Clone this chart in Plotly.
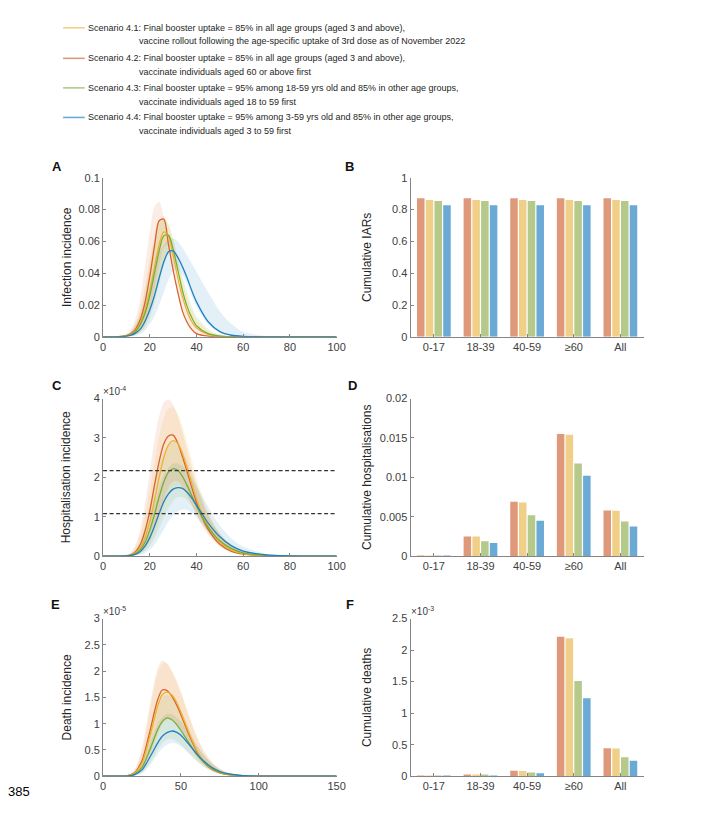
import plotly.graph_objects as go

# page offset (browser body margin) compensation
OFF = 8
W, H = 709 - OFF, 816 - OFF

# ---------------- legend text ----------------
legend_line1 = [
    "Scenario 4.1: Final booster uptake = 85% in all age groups (aged 3 and above),",
    "Scenario 4.2: Final booster uptake = 85% in all age groups (aged 3 and above),",
    "Scenario 4.3: Final booster uptake = 95% among 18-59 yrs old and 85% in other age groups,",
    "Scenario 4.4: Final booster uptake = 95% among 3-59 yrs old and 85% in other age groups,",
]
legend_line2 = [
    "vaccine rollout following the age-specific uptake of 3rd dose as of November 2022",
    "vaccinate individuals aged 60 or above first",
    "vaccinate individuals aged 18 to 59 first",
    "vaccinate individuals aged 3 to 59 first",
]
scenarios = ["4.1", "4.2", "4.3", "4.4"]

# ---------------- panel A: infection incidence ----------------
days_A = [0, 5, 10, 12, 14, 16, 18, 20, 22, 24, 26, 28, 30, 32, 34, 36, 38, 40, 45, 50, 55, 60, 70, 80, 90, 100]
inf_41 = [0, 0, 0.0006, 0.0015, 0.004, 0.009, 0.017, 0.029, 0.044, 0.058, 0.066, 0.063, 0.051, 0.037, 0.025, 0.016, 0.0095, 0.0055, 0.0015, 0.0004, 0.0001, 0, 0, 0, 0, 0]
inf_42 = [0, 0, 0.0008, 0.002, 0.005, 0.011, 0.022, 0.038, 0.057, 0.073, 0.074, 0.058, 0.042, 0.028, 0.016, 0.009, 0.0045, 0.002, 0.0004, 0.0001, 0, 0, 0, 0, 0, 0]
inf_43 = [0, 0, 0.0005, 0.0013, 0.0035, 0.008, 0.015, 0.026, 0.040, 0.054, 0.0635, 0.064, 0.055, 0.042, 0.029, 0.019, 0.012, 0.007, 0.002, 0.0005, 0.0001, 0, 0, 0, 0, 0]
inf_44 = [0, 0, 0.0004, 0.001, 0.0025, 0.005, 0.010, 0.017, 0.026, 0.037, 0.047, 0.0535, 0.054, 0.050, 0.044, 0.037, 0.029, 0.022, 0.0095, 0.0033, 0.001, 0.0003, 0, 0, 0, 0]
inf_41_lo = [0, 0, 0.0002, 0.0005, 0.0013, 0.003, 0.007, 0.014, 0.024, 0.036, 0.048, 0.054, 0.050, 0.039, 0.027, 0.017, 0.010, 0.006, 0.0015, 0.0003, 0, 0, 0, 0, 0, 0]
inf_41_hi = [0, 0, 0.0015, 0.004, 0.009, 0.018, 0.032, 0.049, 0.064, 0.074, 0.076, 0.070, 0.060, 0.047, 0.035, 0.025, 0.017, 0.011, 0.004, 0.0012, 0.0003, 0.0001, 0, 0, 0, 0]
inf_42_lo = [0, 0, 0.0002, 0.0005, 0.0015, 0.004, 0.009, 0.018, 0.030, 0.045, 0.056, 0.058, 0.045, 0.030, 0.018, 0.010, 0.005, 0.002, 0.0003, 0, 0, 0, 0, 0, 0, 0]
inf_42_hi = [0, 0, 0.002, 0.005, 0.012, 0.025, 0.045, 0.066, 0.082, 0.085, 0.075, 0.060, 0.048, 0.035, 0.024, 0.016, 0.010, 0.006, 0.002, 0.0005, 0.0001, 0, 0, 0, 0, 0]
inf_43_lo = [0, 0, 0.0002, 0.0004, 0.0011, 0.0027, 0.006, 0.012, 0.021, 0.033, 0.045, 0.052, 0.051, 0.042, 0.031, 0.021, 0.013, 0.008, 0.002, 0.0005, 0, 0, 0, 0, 0, 0]
inf_43_hi = [0, 0, 0.0013, 0.0035, 0.008, 0.016, 0.029, 0.045, 0.060, 0.071, 0.074, 0.071, 0.062, 0.050, 0.038, 0.028, 0.019, 0.013, 0.005, 0.0015, 0.0004, 0.0001, 0, 0, 0, 0]
inf_44_lo = [0, 0, 0.0001, 0.0003, 0.0008, 0.002, 0.004, 0.008, 0.013, 0.020, 0.028, 0.036, 0.041, 0.042, 0.039, 0.033, 0.026, 0.019, 0.008, 0.0025, 0.0007, 0.0002, 0, 0, 0, 0]
inf_44_hi = [0, 0, 0.001, 0.003, 0.007, 0.013, 0.022, 0.032, 0.043, 0.052, 0.058, 0.061, 0.062, 0.060, 0.056, 0.051, 0.046, 0.041, 0.028, 0.016, 0.008, 0.003, 0.0005, 0.0001, 0, 0]

# ---------------- panel C: hospitalisation incidence (x 1e-4) ----------------
days_C = [0, 5, 10, 12, 14, 16, 18, 20, 22, 24, 26, 28, 30, 32, 34, 36, 38, 40, 42, 45, 50, 55, 60, 70, 80, 100]
hos_41 = [0, 0, 0.008, 0.03, 0.09, 0.22, 0.48, 0.88, 1.42, 2.0, 2.5, 2.82, 2.93, 2.86, 2.60, 2.24, 1.84, 1.46, 1.13, 0.76, 0.36, 0.15, 0.06, 0.01, 0, 0]
hos_42 = [0, 0, 0.01, 0.04, 0.12, 0.30, 0.65, 1.15, 1.80, 2.40, 2.85, 3.05, 3.07, 2.87, 2.52, 2.14, 1.74, 1.36, 1.04, 0.68, 0.30, 0.12, 0.05, 0.01, 0, 0]
hos_43 = [0, 0, 0.006, 0.025, 0.07, 0.17, 0.36, 0.66, 1.06, 1.50, 1.88, 2.13, 2.22, 2.18, 2.02, 1.79, 1.53, 1.27, 1.03, 0.73, 0.39, 0.19, 0.085, 0.015, 0.002, 0]
hos_44 = [0, 0, 0.005, 0.018, 0.05, 0.12, 0.26, 0.47, 0.76, 1.08, 1.38, 1.58, 1.70, 1.74, 1.72, 1.62, 1.47, 1.29, 1.11, 0.84, 0.49, 0.26, 0.13, 0.03, 0.006, 0]
hos_41_lo = [0, 0, 0.002, 0.008, 0.03, 0.08, 0.17, 0.33, 0.58, 0.90, 1.25, 1.55, 1.75, 1.80, 1.72, 1.53, 1.30, 1.06, 0.84, 0.57, 0.26, 0.10, 0.035, 0.005, 0, 0]
hos_41_hi = [0, 0, 0.025, 0.08, 0.24, 0.55, 1.05, 1.70, 2.40, 3.05, 3.50, 3.75, 3.78, 3.62, 3.30, 2.90, 2.45, 2.02, 1.62, 1.12, 0.58, 0.27, 0.12, 0.02, 0, 0]
hos_42_lo = [0, 0, 0.002, 0.01, 0.04, 0.10, 0.22, 0.42, 0.72, 1.08, 1.45, 1.75, 1.90, 1.90, 1.78, 1.55, 1.30, 1.05, 0.82, 0.55, 0.24, 0.09, 0.03, 0.005, 0, 0]
hos_42_hi = [0, 0, 0.03, 0.10, 0.30, 0.70, 1.35, 2.15, 2.95, 3.55, 3.90, 3.98, 3.85, 3.55, 3.15, 2.70, 2.25, 1.85, 1.50, 1.05, 0.55, 0.25, 0.11, 0.02, 0, 0]
hos_43_lo = [0, 0, 0.002, 0.006, 0.02, 0.06, 0.13, 0.26, 0.45, 0.70, 0.98, 1.22, 1.40, 1.50, 1.50, 1.42, 1.27, 1.08, 0.89, 0.63, 0.32, 0.14, 0.06, 0.01, 0, 0]
hos_43_hi = [0, 0, 0.015, 0.06, 0.17, 0.38, 0.75, 1.25, 1.80, 2.30, 2.65, 2.85, 2.90, 2.85, 2.68, 2.40, 2.08, 1.75, 1.45, 1.03, 0.58, 0.29, 0.14, 0.03, 0.004, 0]
hos_44_lo = [0, 0, 0.001, 0.004, 0.012, 0.035, 0.08, 0.16, 0.29, 0.47, 0.68, 0.88, 1.03, 1.13, 1.18, 1.17, 1.10, 0.98, 0.84, 0.62, 0.33, 0.15, 0.06, 0.01, 0.001, 0]
hos_44_hi = [0, 0, 0.012, 0.045, 0.12, 0.28, 0.55, 0.92, 1.35, 1.75, 2.05, 2.25, 2.35, 2.35, 2.28, 2.15, 1.98, 1.78, 1.58, 1.25, 0.78, 0.45, 0.24, 0.06, 0.012, 0]
hos_thresholds = [2.17, 1.08]

# ---------------- panel E: death incidence (x 1e-5) ----------------
days_E = [0, 10, 15, 20, 25, 30, 35, 38, 41, 44, 47, 50, 55, 60, 65, 70, 75, 80, 90, 100, 110, 120, 150]
dth_41 = [0, 0, 0.004, 0.05, 0.25, 0.75, 1.33, 1.55, 1.60, 1.55, 1.42, 1.22, 0.84, 0.50, 0.27, 0.14, 0.07, 0.035, 0.008, 0.001, 0, 0, 0]
dth_42 = [0, 0, 0.005, 0.06, 0.30, 0.85, 1.45, 1.64, 1.63, 1.53, 1.37, 1.17, 0.80, 0.48, 0.26, 0.13, 0.065, 0.03, 0.007, 0.001, 0, 0, 0]
dth_43 = [0, 0, 0.003, 0.035, 0.17, 0.50, 0.88, 1.04, 1.11, 1.08, 0.99, 0.87, 0.64, 0.42, 0.26, 0.145, 0.075, 0.038, 0.009, 0.0015, 0, 0, 0]
dth_44 = [0, 0, 0.002, 0.025, 0.12, 0.36, 0.63, 0.76, 0.83, 0.86, 0.84, 0.78, 0.61, 0.43, 0.28, 0.165, 0.09, 0.047, 0.011, 0.002, 0, 0, 0]
dth_41_lo = [0, 0, 0.001, 0.015, 0.10, 0.37, 0.78, 0.98, 1.06, 1.06, 0.98, 0.86, 0.62, 0.38, 0.21, 0.11, 0.05, 0.024, 0.005, 0.001, 0, 0, 0]
dth_41_hi = [0, 0, 0.008, 0.10, 0.48, 1.25, 1.95, 2.15, 2.15, 2.02, 1.85, 1.62, 1.18, 0.78, 0.47, 0.27, 0.14, 0.07, 0.015, 0.003, 0, 0, 0]
dth_42_lo = [0, 0, 0.001, 0.02, 0.12, 0.42, 0.85, 1.05, 1.12, 1.10, 1.0, 0.88, 0.62, 0.38, 0.21, 0.11, 0.05, 0.024, 0.005, 0.001, 0, 0, 0]
dth_42_hi = [0, 0, 0.01, 0.12, 0.55, 1.35, 2.05, 2.20, 2.15, 2.0, 1.80, 1.58, 1.15, 0.76, 0.46, 0.26, 0.14, 0.07, 0.015, 0.003, 0, 0, 0]
dth_43_lo = [0, 0, 0.001, 0.01, 0.07, 0.25, 0.50, 0.63, 0.70, 0.71, 0.67, 0.60, 0.44, 0.29, 0.17, 0.09, 0.045, 0.022, 0.005, 0.001, 0, 0, 0]
dth_43_hi = [0, 0, 0.006, 0.07, 0.33, 0.85, 1.32, 1.50, 1.55, 1.50, 1.38, 1.22, 0.92, 0.62, 0.39, 0.23, 0.12, 0.06, 0.014, 0.003, 0, 0, 0]
dth_44_lo = [0, 0, 0.0005, 0.008, 0.05, 0.20, 0.42, 0.53, 0.60, 0.63, 0.62, 0.57, 0.44, 0.30, 0.18, 0.10, 0.05, 0.025, 0.006, 0.001, 0, 0, 0]
dth_44_hi = [0, 0, 0.004, 0.05, 0.24, 0.62, 0.98, 1.12, 1.18, 1.18, 1.12, 1.03, 0.82, 0.59, 0.39, 0.24, 0.13, 0.07, 0.017, 0.004, 0.001, 0, 0]

# ---------------- bar panels ----------------
age_groups = ["0-17", "18-39", "40-59", "≥60", "All"]
iar_42 = [0.872, 0.872, 0.872, 0.872, 0.872]
iar_41 = [0.861, 0.861, 0.861, 0.861, 0.861]
iar_43 = [0.855, 0.855, 0.855, 0.855, 0.855]
iar_44 = [0.827, 0.827, 0.827, 0.827, 0.827]
chosp_42 = [0.00003, 0.0025, 0.0069, 0.0155, 0.0058]
chosp_41 = [0.00003, 0.0025, 0.0068, 0.0154, 0.00575]
chosp_43 = [0.00002, 0.0019, 0.0052, 0.01175, 0.0044]
chosp_44 = [0.00002, 0.00167, 0.0045, 0.0102, 0.00375]
cdeath_42 = [0.002, 0.016, 0.085, 2.21, 0.443]   # x 1e-3
cdeath_41 = [0.002, 0.015, 0.082, 2.19, 0.44]
cdeath_43 = [0.001, 0.010, 0.060, 1.51, 0.30]
cdeath_44 = [0.001, 0.007, 0.048, 1.235, 0.247]

# ---------------- styles ----------------
line_col = {"4.1": "#EDB22F", "4.2": "#D9622B", "4.3": "#78AD36", "4.4": "#1F80C4"}
band_col = {"4.1": "rgba(237,177,32,0.13)", "4.2": "rgba(217,83,25,0.11)",
            "4.3": "rgba(119,172,48,0.12)", "4.4": "rgba(0,114,189,0.11)"}
bar_col = {"4.1": "#F0D088", "4.2": "#E0987A", "4.3": "#B5C98A", "4.4": "#6AAAD4"}

AX_FONT = "Liberation Sans, Arial, Helvetica, sans-serif"
LEG_FONT = "Liberation Sans, Arial, sans-serif"
AXC = "#858585"
TXT = "#404040"


def px_x(p):
    return (p - OFF) / W


def px_y(p):
    return 1 - (p - OFF) / H


fig = go.Figure()

line_panels = [
    ("x", "y", days_A, {"4.1": (inf_41, inf_41_lo, inf_41_hi), "4.2": (inf_42, inf_42_lo, inf_42_hi),
                        "4.3": (inf_43, inf_43_lo, inf_43_hi), "4.4": (inf_44, inf_44_lo, inf_44_hi)}),
    ("x3", "y3", days_C, {"4.1": (hos_41, hos_41_lo, hos_41_hi), "4.2": (hos_42, hos_42_lo, hos_42_hi),
                          "4.3": (hos_43, hos_43_lo, hos_43_hi), "4.4": (hos_44, hos_44_lo, hos_44_hi)}),
    ("x5", "y5", days_E, {"4.1": (dth_41, dth_41_lo, dth_41_hi), "4.2": (dth_42, dth_42_lo, dth_42_hi),
                          "4.3": (dth_43, dth_43_lo, dth_43_hi), "4.4": (dth_44, dth_44_lo, dth_44_hi)}),
]
band_order = ["4.4", "4.3", "4.1", "4.2"]
line_order = ["4.2", "4.1", "4.3", "4.4"]
for xa, ya, days, series in line_panels:
    for s in band_order:
        mean, lo, hi = series[s]
        fig.add_trace(go.Scatter(x=days, y=lo, xaxis=xa, yaxis=ya, mode="lines",
                                 line=dict(width=0, shape="spline", smoothing=0.8),
                                 showlegend=False, hoverinfo="skip"))
        fig.add_trace(go.Scatter(x=days, y=hi, xaxis=xa, yaxis=ya, mode="lines", fill="tonexty",
                                 fillcolor=band_col[s], line=dict(width=0, shape="spline", smoothing=0.8),
                                 showlegend=False, hoverinfo="skip"))
    for s in line_order:
        mean, lo, hi = series[s]
        fig.add_trace(go.Scatter(x=days, y=mean, xaxis=xa, yaxis=ya, mode="lines",
                                 name="Scenario " + s,
                                 line=dict(color=line_col[s], width=1.3, shape="spline", smoothing=0.8),
                                 showlegend=False))

bar_panels = [
    ("x2", "y2", {"4.2": iar_42, "4.1": iar_41, "4.3": iar_43, "4.4": iar_44}),
    ("x4", "y4", {"4.2": chosp_42, "4.1": chosp_41, "4.3": chosp_43, "4.4": chosp_44}),
    ("x6", "y6", {"4.2": cdeath_42, "4.1": cdeath_41, "4.3": cdeath_43, "4.4": cdeath_44}),
]
for xa, ya, series in bar_panels:
    for s in ["4.2", "4.1", "4.3", "4.4"]:
        fig.add_trace(go.Bar(x=age_groups, y=series[s], xaxis=xa, yaxis=ya, name="Scenario " + s,
                             marker=dict(color=bar_col[s], line=dict(width=0)), showlegend=False))

# threshold dashed lines in C
for t in hos_thresholds:
    fig.add_shape(type="line", xref="x3 domain", yref="y3", x0=0, x1=1, y0=t, y1=t,
                  line=dict(color="#333333", width=1.2, dash="4px,2.5px"))

# ---------------- axes ----------------
left_dom = [px_x(101.7), px_x(339.3)]
right_dom = [px_x(414.5), px_x(651.7)]
row_dom = [
    [px_y(335.7), px_y(174.3)],
    [px_y(558.3), px_y(398.3)],
    [px_y(781.7), px_y(621.7)],
]


def base_axis(**kw):
    d = dict(showline=True, linecolor=AXC, linewidth=1, ticks="inside", ticklen=3, tickcolor=AXC,
             showgrid=False, zeroline=False, mirror=False,
             tickfont=dict(family=AX_FONT, size=11, color=TXT))
    d.update(kw)
    return d


def ytitle(text, standoff):
    return dict(text=text, standoff=standoff, font=dict(family=AX_FONT, size=12, color="#262626"))


layout_axes = {
    "xaxis": base_axis(domain=left_dom, anchor="y", range=[0, 100], tickvals=[0, 20, 40, 60, 80, 100]),
    "yaxis": base_axis(domain=row_dom[0], anchor="x", range=[0, 0.1], tickvals=[0, 0.02, 0.04, 0.06, 0.08, 0.1],
                       ticktext=["0", "0.02", "0.04", "0.06", "0.08", "0.1"],
                       title=ytitle("Infection incidence", 4)),
    "xaxis2": base_axis(domain=right_dom, anchor="y2", range=[-0.5, 4.5], type="category"),
    "yaxis2": base_axis(domain=row_dom[0], anchor="x2", range=[0, 1], tickvals=[0, 0.2, 0.4, 0.6, 0.8, 1],
                        ticktext=["0", "0.2", "0.4", "0.6", "0.8", "1"],
                        title=ytitle("Cumulative IARs", 17)),
    "xaxis3": base_axis(domain=left_dom, anchor="y3", range=[0, 100], tickvals=[0, 20, 40, 60, 80, 100]),
    "yaxis3": base_axis(domain=row_dom[1], anchor="x3", range=[0, 4], tickvals=[0, 1, 2, 3, 4],
                        title=ytitle("Hospitalisation incidence", 20)),
    "xaxis4": base_axis(domain=right_dom, anchor="y4", range=[-0.5, 4.5], type="category"),
    "yaxis4": base_axis(domain=row_dom[1], anchor="x4", range=[0, 0.02],
                        tickvals=[0, 0.005, 0.01, 0.015, 0.02],
                        ticktext=["0", "0.005", "0.01", "0.015", "0.02"],
                        title=ytitle("Cumulative hospitalisations", 5)),
    "xaxis5": base_axis(domain=left_dom, anchor="y5", range=[0, 150], tickvals=[0, 50, 100, 150]),
    "yaxis5": base_axis(domain=row_dom[2], anchor="x5", range=[0, 3], tickvals=[0, 0.5, 1, 1.5, 2, 2.5, 3],
                        ticktext=["0", "0.5", "1", "1.5", "2", "2.5", "3"],
                        title=ytitle("Death incidence", 10)),
    "xaxis6": base_axis(domain=right_dom, anchor="y6", range=[-0.5, 4.5], type="category"),
    "yaxis6": base_axis(domain=row_dom[2], anchor="x6", range=[0, 2.5], tickvals=[0, 0.5, 1, 1.5, 2, 2.5],
                        ticktext=["0", "0.5", "1", "1.5", "2", "2.5"],
                        title=ytitle("Cumulative deaths", 17)),
}

annotations = []
# panel letters
for letter, (px, py) in zip("ABCDEF", [(55, 163), (352, 163), (55, 385), (355, 385), (53, 607), (353, 607)]):
    annotations.append(dict(text=letter, x=px_x(px), y=px_y(py), xref="paper", yref="paper",
                            xanchor="center", yanchor="middle", showarrow=False,
                            font=dict(family=AX_FONT, size=13, color="#111111", weight="bold")))
# exponent labels
for t, px, py in [("×10<sup>-4</sup>", 100, 399), ("×10<sup>-5</sup>", 100, 622), ("×10<sup>-3</sup>", 413, 622)]:
    annotations.append(dict(text=t, x=px_x(px), y=px_y(py), xref="paper", yref="paper", xanchor="left",
                            yanchor="bottom", showarrow=False, font=dict(family=AX_FONT, size=10, color=TXT)))
# page number
annotations.append(dict(text="385", x=px_x(3), y=px_y(797), xref="paper", yref="paper", xanchor="left",
                        yanchor="middle", showarrow=False,
                        font=dict(family="Liberation Sans, Arial, sans-serif", size=13, color="#000000")))

# legend (key lines + text)
legend_y1 = [22, 53, 83, 113]
legend_y2 = [35, 66.5, 97, 126.5]
for i, s in enumerate(scenarios):
    fig.add_shape(type="line", xref="paper", yref="paper", x0=px_x(61), x1=px_x(83),
                  y0=px_y(legend_y1[i]), y1=px_y(legend_y1[i]),
                  line=dict(color=bar_col[s], width=1.6))
    annotations.append(dict(text=legend_line1[i], x=px_x(84), y=px_y(legend_y1[i]), xref="paper", yref="paper",
                            xanchor="left", yanchor="middle", showarrow=False,
                            font=dict(family=LEG_FONT, size=9, color="#262626")))
    annotations.append(dict(text=legend_line2[i], x=px_x(136.5), y=px_y(legend_y2[i]), xref="paper", yref="paper",
                            xanchor="left", yanchor="middle", showarrow=False,
                            font=dict(family=LEG_FONT, size=9, color="#262626")))

fig.update_layout(
    width=W, height=H,
    margin=dict(l=0, r=0, t=0, b=0),
    paper_bgcolor="white", plot_bgcolor="white",
    barmode="group", bargap=0.25, bargroupgap=0.14,
    showlegend=False,
    annotations=annotations,
    **layout_axes,
)

fig.write_html("out.html")
